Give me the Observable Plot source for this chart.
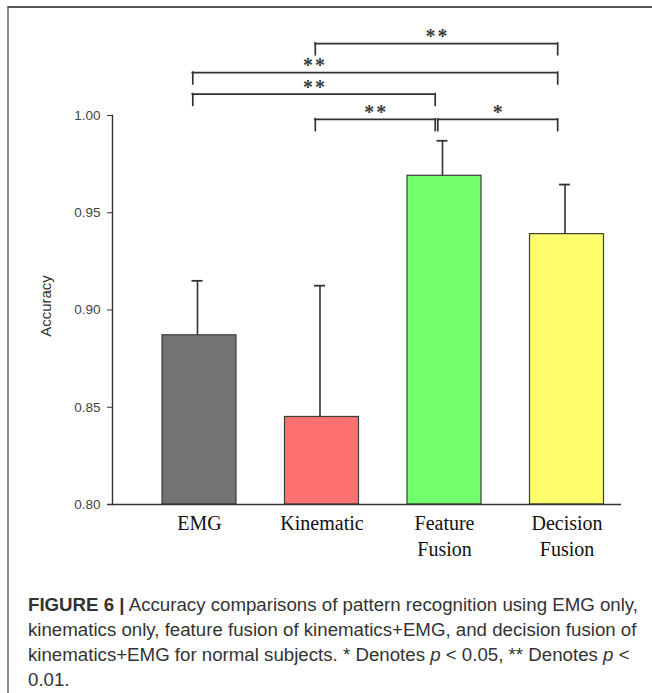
<!DOCTYPE html>
<html><head><meta charset="utf-8">
<script src="https://cdn.jsdelivr.net/npm/d3@7"></script>
<script src="https://cdn.jsdelivr.net/npm/@observablehq/plot@0.6"></script>
<style>
html,body{margin:0;padding:0;background:#fff;}
#fig{position:relative;width:652px;height:693px;overflow:hidden;}
#box{position:absolute;left:7px;top:6px;right:-10px;bottom:-10px;border-left:2px solid #8a8a8a;border-top:2px solid #555;}
#chart{position:absolute;left:0;top:0;}
#caption{position:absolute;left:28px;top:593px;font-family:"Liberation Sans",Arial,sans-serif;font-size:17.5px;line-height:25px;color:#333;white-space:nowrap;transform-origin:0 0;}
#caption span{display:block;}
</style></head>
<body>
<div id="fig">
<div id="box"></div>
<div id="chart"></div>
<div id="caption">
<span id="cap1"><b>FIGURE 6 |</b> Accuracy comparisons of pattern recognition using EMG only,</span>
<span>kinematics only, feature fusion of kinematics+EMG, and decision fusion of</span>
<span>kinematics+EMG for normal subjects. * Denotes <i>p</i> &lt; 0.05, ** Denotes <i>p</i> &lt;</span>
<span>0.01.</span>
</div>
</div>
<script>
// ---- data ----
const categories = ["EMG", "Kinematic", "Feature Fusion", "Decision Fusion"];
const tickLabels = ["EMG", "Kinematic", "Feature\nFusion", "Decision\nFusion"];
const accuracy = [0.887, 0.845, 0.969, 0.939];
const errorUp = [0.028, 0.0675, 0.018, 0.0255];
const barColors = ["#737373", "#ff7070", "#72ff6e", "#ffff6e"];
const yTicks = [0.80, 0.85, 0.90, 0.95, 1.00];
const bracketFrom = ["Kinematic", "EMG", "EMG", "Kinematic", "Feature Fusion"];
const bracketTo = ["Decision Fusion", "Decision Fusion", "Feature Fusion", "Feature Fusion", "Decision Fusion"];
const bracketLevel = [1.037, 1.022, 1.011, 0.998, 0.998];
const bracketStars = ["**", "**", "**", "**", "*"];
const bracketLabelOver = [null, "Kinematic", null, null, null];

// ---- layout ----
const W = 652, H = 580;
const axisX0 = 112, axisX1 = 621, yBottom = 504, yTop = 115;
const c0 = 199, step = 122.5;
const idx = c => categories.indexOf(c);
const halfBar = 37 / step, capHalf = 5.5 / step, inset = 1.3 / step;
const legLen = 11.7 * 0.2 / (yBottom - yTop);

const bars = categories.map((c, i) => ({i, c, acc: accuracy[i], err: errorUp[i], color: barColors[i]}));
const brackets = bracketFrom.map((f, k) => {
  const a = idx(f), b = idx(bracketTo[k]);
  const lab = bracketLabelOver[k] ? idx(bracketLabelOver[k]) : (a + b) / 2;
  return {a: a + inset, b: b - inset, level: bracketLevel[k], stars: bracketStars[k], lab};
});
const legs = brackets.flatMap(d => [{x: d.a, level: d.level}, {x: d.b, level: d.level}]);

const ink = "#333";
const plot = Plot.plot({
  width: W, height: H,
  marginLeft: axisX0, marginRight: W - axisX1, marginTop: yTop, marginBottom: H - yBottom,
  style: {fontFamily: "Liberation Sans, Arial, sans-serif", background: "transparent", overflow: "visible"},
  x: {type: "linear", domain: [(axisX0 - c0) / step, (axisX1 - c0) / step]},
  y: {domain: [0.8, 1.0]},
  color: {type: "identity"},
  marks: [
    Plot.rect(bars, {x1: d => d.i - halfBar, x2: d => d.i + halfBar, y1: 0.8, y2: "acc", fill: "color", stroke: "#3c3c3c", strokeWidth: 1.2}),
    Plot.ruleX(bars, {x: "i", y1: "acc", y2: d => d.acc + d.err, stroke: ink, strokeWidth: 1.6, dx: -2}),
    Plot.ruleY(bars, {x1: d => d.i - capHalf, x2: d => d.i + capHalf, y: d => d.acc + d.err, stroke: ink, strokeWidth: 1.8, dx: -2}),
    Plot.frame({anchor: "left", stroke: ink, strokeWidth: 1.4}),
    Plot.ruleY([0.8], {stroke: ink, strokeWidth: 1.4, insetLeft: -5}),
    Plot.axisY(yTicks, {tickFormat: d3.format(".2f"), tickSize: 5, tickPadding: 7, fontSize: 13.5, stroke: ink, fill: "#444", label: null}),
    Plot.text(["Accuracy"], {frameAnchor: "left", textAnchor: "middle", dx: -66, dy: -4, rotate: -90, fontSize: 15, fill: "#333"}),
    Plot.axisX([0, 1, 2, 3], {tickFormat: i => tickLabels[i], tickSize: 0, tickPadding: 7, fontSize: 20, fontFamily: "Liberation Serif, Times New Roman, serif", lineHeight: 1.3, fill: "#111", label: null}),
    // significance brackets
    Plot.ruleY(brackets, {x1: "a", x2: "b", y: "level", stroke: ink, strokeWidth: 1.7, dx: -8, strokeLinecap: "square"}),
    Plot.ruleX(legs, {x: "x", y1: "level", y2: d => d.level - legLen, stroke: ink, strokeWidth: 1.7, dx: -8, strokeLinecap: "square"}),
    Plot.text(brackets, {x: "lab", y: "level", text: "stars", dx: -7, dy: -7, fontSize: 20, fontWeight: "bold", fontFamily: "Liberation Serif, Times New Roman, serif", fill: "#3a3a3a"})
  ]
});
document.getElementById("chart").appendChild(plot);
// a little letter spacing between the significance stars
d3.select(plot).selectAll("text").filter(function() { return /^\*+$/.test(this.textContent); })
  .style("letter-spacing", "2px");

// fit caption width
const cap = document.getElementById("caption");
const w1 = document.getElementById("cap1").getBoundingClientRect().width;
cap.style.transform = `scaleX(${610 / w1})`;
</script>
</body></html>
